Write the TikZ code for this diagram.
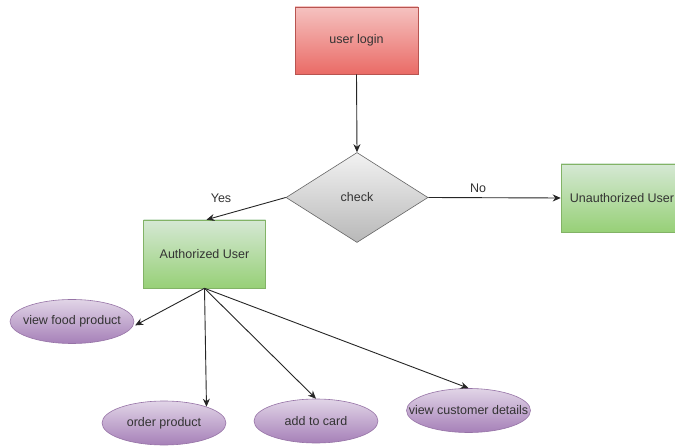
\documentclass[tikz,border=0pt]{standalone}
\usepackage{fontspec}
\setmainfont{Liberation Sans}
\usetikzlibrary{shapes.geometric,arrows.meta}
\definecolor{txt}{HTML}{333333}
\definecolor{redtop}{HTML}{F5C2C0}
\definecolor{redbot}{HTML}{EA6B66}
\definecolor{redline}{HTML}{B85450}
\definecolor{grntop}{HTML}{D5E8D4}
\definecolor{grnbot}{HTML}{97D077}
\definecolor{grnline}{HTML}{82B366}
\definecolor{gratop}{HTML}{F2F2F2}
\definecolor{grabot}{HTML}{B8B8B8}
\definecolor{graline}{HTML}{666666}
\definecolor{purtop}{HTML}{E1D5E7}
\definecolor{purbot}{HTML}{A680B8}
\definecolor{purline}{HTML}{9673A6}
\tikzset{
  lbl/.style={font=\fontsize{12.5}{14}\selectfont, text=txt},
  redbox/.style={lbl, rectangle, draw=redline, line width=0.6pt, top color=redtop, bottom color=redbot, minimum width=123pt, minimum height=67pt, inner sep=0pt},
  grnbox/.style={lbl, rectangle, draw=grnline, line width=0.6pt, top color=grntop, bottom color=grnbot, minimum width=122pt, minimum height=68pt, inner sep=0pt},
  decide/.style={lbl, diamond, draw=graline, line width=0.6pt, top color=gratop, bottom color=grabot, minimum width=142pt, minimum height=90pt, inner sep=0pt},
  usecase/.style={lbl, ellipse, draw=purline, line width=0.6pt, top color=purtop, bottom color=purbot, minimum width=124pt, minimum height=44pt, inner sep=-25pt},
  conn/.style={draw=black!85, line width=0.9pt, -{Stealth[length=8pt,width=7pt]}},
  edgelbl/.style={lbl, text=txt}
}
\begin{document}
\begin{tikzpicture}[x=1pt,y=-1pt]
\useasboundingbox (0,0) rectangle (675,446);
\clip (0,0) rectangle (675,446);
\fill[white] (0,0) rectangle (675,446);
\node[redbox] (login) at (356.5,40.5) {user login};
\node[decide] (check) at (357,197.5) {check};
\node[grnbox] (unauth) at (622,198) {Unauthorized User};
\node[grnbox] (auth) at (204.5,254) {Authorized User};
\node[usecase] (food) at (72,321.5) {view food product};
\node[usecase] (order) at (164,423) {order product};
\node[usecase] (add) at (316,421) {add to card};
\node[usecase] (cust) at (468.5,410.5) {view customer details};
\draw[conn] (login.south) -- (check.north);
\draw[conn] (check.west) -- ([xshift=2pt]auth.north);
\draw[conn] (check.east) -- (unauth.west);
\node[edgelbl] (yes) at (221,198) {Yes};
\node[edgelbl] (no) at (478,188) {No};
\draw[conn, shorten >=3pt] (auth.south) -- (food.-5);
\draw[conn] (auth.south) -- (order.21);
\draw[conn] (auth.south) -- (add.north);
\draw[conn] (auth.south) -- (cust.north);
\end{tikzpicture}
\end{document}
